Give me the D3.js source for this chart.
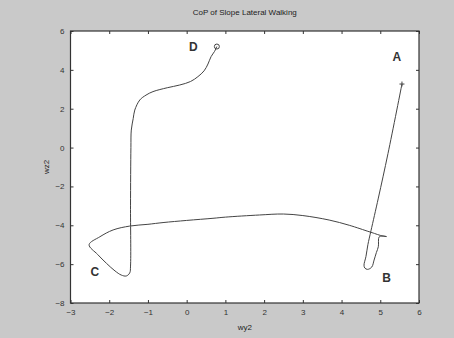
<!DOCTYPE html>
<html>
<head>
<meta charset="utf-8">
<script src="https://cdn.jsdelivr.net/npm/d3@7"></script>
<style>
  body { margin: 0; background: #c9c9c9; }
  text { font-family: "Liberation Sans", Arial, sans-serif; fill: #222; }
</style>
</head>
<body>
<div id="chart"></div>
<script>
// trajectory from A (start) to D (end)
const pathX = [5.56, 5.2, 4.95, 4.76, 4.68, 4.63, 4.58, 4.6, 4.67, 4.78, 4.84, 4.9, 4.95, 4.97, 5.05, 5.16, 5.0, 4.85, 4.71, 4.2, 3.68, 3.0, 2.5, 1.88, 1.0, 0.68, 0.0, -0.61, -1.0, -1.47, -1.9, -2.24, -2.52, -2.3, -2.07, -1.85, -1.69, -1.56, -1.47, -1.45, -1.45, -1.44, -1.43, -1.38, -1.34, -1.21, -1.05, -0.87, -0.5, -0.18, 0.1, 0.29, 0.45, 0.55, 0.63, 0.72, 0.78];
const pathY = [3.27, -0.3, -2.6, -4.28, -5.0, -5.61, -6.05, -6.2, -6.27, -6.15, -5.79, -5.4, -5.1, -4.6, -4.56, -4.58, -4.52, -4.42, -4.33, -4.0, -3.73, -3.5, -3.42, -3.47, -3.58, -3.64, -3.75, -3.86, -3.95, -4.04, -4.24, -4.59, -5.0, -5.5, -5.96, -6.35, -6.56, -6.61, -6.45, -6.1, -3.0, 0.0, 0.9, 1.5, 1.93, 2.45, 2.7, 2.88, 3.08, 3.22, 3.4, 3.65, 3.95, 4.3, 4.68, 4.95, 5.2];

const xTicks = [-3, -2, -1, 0, 1, 2, 3, 4, 5, 6];
const yTicks = [-8, -6, -4, -2, 0, 2, 4, 6];

const markLabels = ["A", "B", "C", "D"];
const markX = [5.43, 5.16, -2.37, 0.17];
const markY = [4.68, -6.72, -6.39, 5.19];

const width = 454, height = 338;
const margin = {left: 70.5, right: 35, top: 31, bottom: 35};

const svg = d3.select("#chart").append("svg")
  .attr("width", width)
  .attr("height", height);

const x = d3.scaleLinear().domain([-3, 6]).range([margin.left, width - margin.right]);
const y = d3.scaleLinear().domain([-8, 6]).range([height - margin.bottom, margin.top]);

// zona bianca del grafico
svg.append("rect")
  .attr("x", x(-3)).attr("y", y(6))
  .attr("width", x(6) - x(-3)).attr("height", y(-8) - y(6))
  .attr("fill", "#fff");

// assi con tacche interne
const axisStyle = g => {
  g.select(".domain").remove();
  g.selectAll("line").attr("stroke", "#333");
  g.selectAll("text").attr("font-size", 8).style("fill", "#333");
};

svg.append("g")
  .attr("transform", `translate(0,${y(-8)})`)
  .call(d3.axisBottom(x).tickValues(xTicks).tickSize(-3).tickPadding(6))
  .call(axisStyle);

svg.append("g")
  .attr("transform", `translate(0,${y(6)})`)
  .call(d3.axisTop(x).tickValues(xTicks).tickSize(-3).tickFormat(""))
  .call(axisStyle);

svg.append("g")
  .attr("transform", `translate(${x(-3)},0)`)
  .call(d3.axisLeft(y).tickValues(yTicks).tickSize(-3).tickPadding(6))
  .call(axisStyle);

svg.append("g")
  .attr("transform", `translate(${x(6)},0)`)
  .call(d3.axisRight(y).tickValues(yTicks).tickSize(-3).tickFormat(""))
  .call(axisStyle);

svg.append("rect")
  .attr("x", x(-3)).attr("y", y(6))
  .attr("width", x(6) - x(-3)).attr("height", y(-8) - y(6))
  .attr("fill", "none")
  .attr("stroke", "#333")
  .attr("stroke-width", 1.2);

// traiettoria
const pts = pathX.map((v, i) => [v, pathY[i]]);
svg.append("path")
  .datum(pts)
  .attr("fill", "none")
  .attr("stroke", "#444")
  .attr("stroke-width", 1)
  .attr("d", d3.line().x(d => x(d[0])).y(d => y(d[1])).curve(d3.curveCatmullRom));

// marker: + all'inizio, o alla fine
const start = pts[0], end = pts[pts.length - 1];
svg.append("path")
  .attr("d", `M${x(start[0]) - 2.5},${y(start[1])}h5M${x(start[0])},${y(start[1]) - 2.5}v5`)
  .attr("stroke", "#444");
svg.append("circle")
  .attr("cx", x(end[0])).attr("cy", y(end[1]))
  .attr("r", 2.5)
  .attr("fill", "none")
  .attr("stroke", "#444");

// lettere
svg.append("g")
  .selectAll("text")
  .data(markLabels)
  .join("text")
  .attr("x", (d, i) => x(markX[i]))
  .attr("y", (d, i) => y(markY[i]))
  .attr("text-anchor", "middle")
  .attr("dominant-baseline", "central")
  .attr("font-size", 12)
  .attr("font-weight", "bold")
  .style("fill", "#333")
  .text(d => d);

// titolo e etichette
svg.append("text")
  .attr("x", (x(-3) + x(6)) / 2).attr("y", 15)
  .attr("text-anchor", "middle")
  .attr("font-size", 8)
  .text("CoP of Slope Lateral Walking");

svg.append("text")
  .attr("x", (x(-3) + x(6)) / 2).attr("y", 330)
  .attr("text-anchor", "middle")
  .attr("font-size", 8)
  .text("wy2");

svg.append("text")
  .attr("transform", `translate(49,${(y(6) + y(-8)) / 2}) rotate(-90)`)
  .attr("text-anchor", "middle")
  .attr("font-size", 8)
  .text("wz2");
</script>
</body>
</html>
